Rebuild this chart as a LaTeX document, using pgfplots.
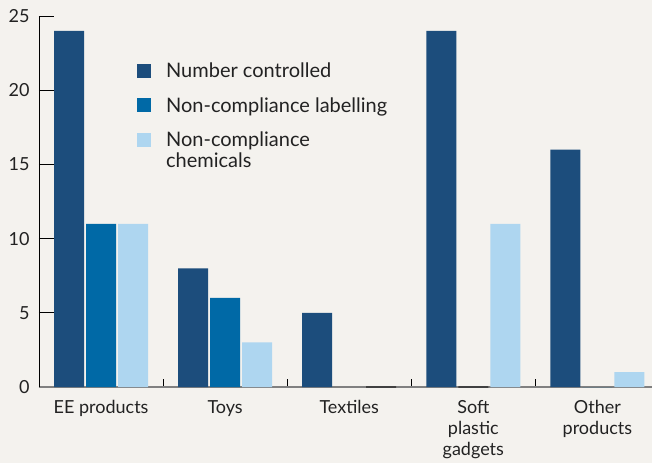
\documentclass[border=0pt]{standalone}
\usepackage{pgfplots}
\pgfplotsset{compat=1.18}
\usepackage{fontspec}
\setmainfont{Lato}
\definecolor{bg}{HTML}{F4F2EE}
\definecolor{c1}{HTML}{1C4D7C}
\definecolor{c2}{HTML}{0069A6}
\definecolor{c3}{HTML}{AED6F0}
\definecolor{txt}{HTML}{222222}
\begin{document}
\begin{tikzpicture}[font=\fontsize{18}{21}\selectfont]
\fill[bg] (0,0) rectangle (652pt,463pt);
\useasboundingbox (0,0) rectangle (652pt,463pt);
\begin{axis}[
  at={(39pt,76pt)}, anchor=south west,
  scale only axis, width=613pt, height=371pt,
  ybar=2pt, bar width=30pt,
  xmin=-0.5, xmax=4.44, ymin=0, ymax=25,
  enlargelimits=false,
  axis lines=left,
  x axis line style={-, draw=gray, line width=1.6pt},
  y axis line style={-, draw=black, line width=0.8pt},
  ytick={0,5,...,25},
  xtick={0,...,4},
  xticklabels={EE products, Toys, Textiles, {Soft\\plastic\\gadgets}, {Other\\products}},
  xticklabel style={align=center, yshift=-10pt, text=txt},
  minor xtick={0.5,1.5,2.5,3.5},
  major x tick style={draw=none},
  minor x tick style={draw=black, line width=0.8pt},
  minor tick length=8pt,
  major tick length=15pt,
  tick align=inside,
  ytick style={draw=black, line width=0.8pt},
  yticklabel style={xshift=-6pt, text=txt},
  /pgf/number format/assume math mode=true,
  legend style={at={(0.16,0.873)}, anchor=north west, draw=none, fill=none,
    inner sep=0pt, outer sep=0pt, row sep=18pt, column sep=15pt,
    nodes={align=left, inner sep=0pt, text=txt, font=\fontsize{20}{21}\selectfont}},
  legend cell align=left,
]
\addplot[fill=c1, draw=none, legend image code/.code={\fill[c1] (0pt,-7pt) rectangle (14pt,7pt);}]
  coordinates {(0,24) (1,8) (2,5) (3,24) (4,16)};
\addplot[fill=c2, draw=none, legend image code/.code={\fill[c2] (0pt,-7pt) rectangle (14pt,7pt);}]
  coordinates {(0,11) (1,6) (4,0)};
\addplot[fill=c3, draw=none, legend image code/.code={\fill[c3] (0pt,3.5pt) rectangle (14pt,17.5pt);}]
  coordinates {(0,11) (1,3) (3,11) (4,1)};
% zero-height bars drawn as dark strokes
\addplot[bar shift=32pt, draw=black!75, line width=1.2pt, forget plot] coordinates {(2,0)};
\addplot[bar shift=0pt, draw=black!75, line width=1.2pt, forget plot] coordinates {(3,0)};
\legend{Number controlled, Non-compliance labelling, {Non-compliance\\chemicals}}
\end{axis}
\end{tikzpicture}
\end{document}
